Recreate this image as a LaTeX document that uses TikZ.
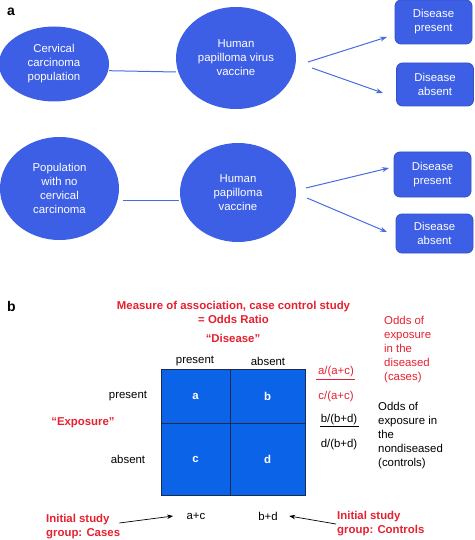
\documentclass[tikz,border=0pt]{standalone}
\usepackage{fontspec}
\setmainfont{Liberation Sans}
\usetikzlibrary{shapes.geometric,arrows.meta,calc}
\definecolor{ellblue}{HTML}{3D5FE6}
\definecolor{gridblue}{HTML}{0B63E8}
\definecolor{gridline}{HTML}{1A2A50}
\definecolor{arrblue}{HTML}{4A6AE0}
\definecolor{txtred}{HTML}{E62030}
\begin{document}
\begin{tikzpicture}[x=1pt,y=-1pt,
  every node/.style={font=\fontsize{11.4}{14}\selectfont},
  ell/.style={ellipse, fill=ellblue, text=white, align=center, inner sep=0pt},
  dbox/.style={rectangle, rounded corners=6pt, fill=ellblue, draw=ellblue!85!black, line width=0.8pt, text=white, align=center, minimum width=77pt},
  conn/.style={draw=arrblue, line width=1pt},
  arr/.style={conn, -{Stealth[length=7pt,width=5pt]}},
  cell/.style={rectangle, fill=gridblue, draw=gridline, line width=1pt, text=white, font=\fontsize{11.4}{14}\selectfont\bfseries, inner sep=0pt},
  redb/.style={text=txtred, font=\fontsize{11.4}{14}\selectfont\bfseries, align=center},
  panel/.style={font=\fontsize{14}{16}\selectfont\bfseries},
  karr/.style={draw=black, line width=0.7pt, -{Stealth[length=6pt,width=4.5pt]}},
]
\useasboundingbox (0,0) rectangle (474,540);
% ---------- panel a ----------
\node[panel] (pa) at (11,12) {a};
\node[ell, minimum width=110pt, minimum height=75pt] (e1) at (54,64) {Cervical\\carcinoma\\population};
\node[ell, minimum width=120pt, minimum height=102pt] (e2) at (236,58) {Human\\papilloma virus\\vaccine};
\node[dbox, minimum height=44pt] (b1) at (433.5,22) {Disease\\present};
\node[dbox, minimum height=43pt] (b2) at (435,84.5) {Disease\\absent};
\draw[conn] ($(e1.east)+(0,6.7)$) -- ($(e2.west)+(0,14)$);
\coordinate (s1) at (308,62);
\coordinate (t1) at (387,37);
\coordinate (s2) at (312,68);
\coordinate (t2) at (383,93);
\draw[arr] (s1) -- (t1);
\draw[arr] (s2) -- (t2);

\node[ell, minimum width=119pt, minimum height=103pt] (e3) at (59.5,188.5) {Population\\with no\\cervical\\carcinoma};
\node[ell, minimum width=116pt, minimum height=99pt] (e4) at (238,192.5) {Human\\papilloma\\vaccine};
\node[dbox, minimum height=45pt] (b3) at (432.5,174.5) {Disease\\present};
\node[dbox, minimum height=39pt] (b4) at (434.5,233.5) {Disease\\absent};
\draw[conn] ($(e3.east)+(4,12)$) -- ($(e4.west)+(-1,8)$);
\coordinate (s3) at (306,188);
\coordinate (t3) at (389,168);
\coordinate (s4) at (307,198);
\coordinate (t4) at (387,232);
\draw[arr] (s3) -- (t3);
\draw[arr] (s4) -- (t4);

% ---------- panel b ----------
\node[panel] (pb) at (11.5,306) {b};
\node[redb] (title) at (233.5,312) {Measure of association, case control study\\= Odds Ratio};
\node[redb] (dis) at (233,338) {“Disease”};
\node[text=txtred, align=left, anchor=west, inner sep=0pt] (oddsd) at (384,349.5) {Odds of\\exposure\\in the\\diseased\\(cases)};

\node (colp) at (195,361) {present};
\node (cola) at (268,361) {absent};
\node (rowp) at (128,396) {present};
\node (rowa) at (128,459) {absent};
\node[redb] (expo) at (83,423) {“Exposure”};

\node[cell, minimum width=69pt, minimum height=54pt] (cella) at (195.5,396) {a};
\node[cell, minimum width=75pt, minimum height=54pt] (cellb) at (267.5,396) {b};
\node[cell, minimum width=69pt, minimum height=72pt] (cellc) at (195.5,459) {c};
\node[cell, minimum width=75pt, minimum height=72pt] (celld) at (267.5,459) {d};

\node[text=txtred] (fac) at (336,372) {a/(a+c)};
\draw[txtred, line width=0.8pt] ($(fac.center)+(-20,7)$) -- ($(fac.center)+(19,7)$);
\node[text=txtred] (fca) at (336,397) {c/(a+c)};
\node (fbd) at (339,420) {b/(b+d)};
\draw[black, line width=0.8pt] ($(fbd.center)+(-19,6)$) -- ($(fbd.center)+(20,6)$);
\node (fdb) at (339,445) {d/(b+d)};
\node[align=left, anchor=west, inner sep=0pt] (oddsn) at (378,435.5) {Odds of\\exposure in\\the\\nondiseased\\(controls)};

\node (sac) at (196,516) {a+c};
\node (sbd) at (268,516) {b+d};
\node[redb, align=left, anchor=west, inner sep=0pt] (cases) at (46,526.5) {Initial study\\group: Cases};
\node[redb, align=left, anchor=west, inner sep=0pt] (ctrl) at (337,524) {Initial study\\group: Controls};
\draw[karr] ($(cases.east)+(-1,-3.5)$) -- ($(sac.west)+(-10,0)$);
\draw[karr] ($(ctrl.west)+(-1,0)$) -- ($(sbd.east)+(8,0)$);
\end{tikzpicture}
\end{document}
